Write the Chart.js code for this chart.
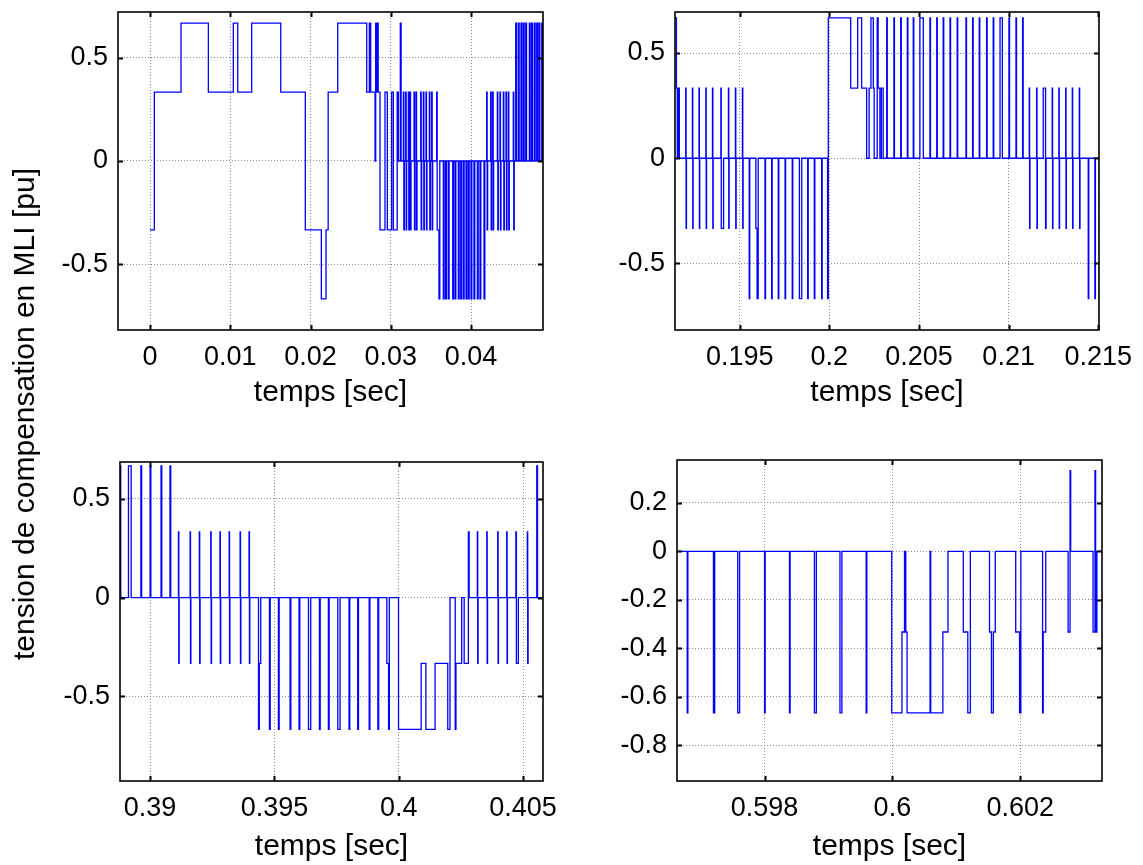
<!DOCTYPE html>
<html>
<head>
<meta charset="utf-8">
<script src="https://cdn.jsdelivr.net/npm/chart.js@4.4.1/dist/chart.umd.min.js"></script>
<style>
  body { margin: 0; background: #fff; }
  #fig { position: relative; width: 1143px; height: 865px; overflow: hidden; background: #fff; }
  #fig canvas { position: absolute; }
  #ylabel {
    position: absolute; left: -255px; top: 396px; width: 560px; height: 36px; line-height: 36px;
    transform: rotate(-90deg); text-align: center; white-space: nowrap;
    font: 30px "Liberation Sans", Arial, sans-serif; color: #000;
  }
</style>
</head>
<body>
<div id="fig">
  <canvas id="plot-tl" width="570" height="420" style="left:0;top:0"></canvas>
  <canvas id="plot-tr" width="560" height="420" style="left:580px;top:0"></canvas>
  <canvas id="plot-bl" width="570" height="425" style="left:0;top:440px"></canvas>
  <canvas id="plot-br" width="563" height="425" style="left:580px;top:440px"></canvas>
  <div id="ylabel">tension de compensation en MLI [pu]</div>
</div>
<script>
// compensation voltage, [time s, level pu]; each level holds until the next time
const voltStart = [
  [0, -0.333], [0.00054, 0.333], [0.00386, 0.667], [0.00727, 0.333], [0.01038, 0.667], [0.01093, 0.333],
  [0.01267, 0.667], [0.01629, 0.333], [0.01935, -0.333], [0.02135, -0.667], [0.02193, -0.333], [0.02220, 0.333],
  [0.02339, 0.667], [0.02700, 0.333], [0.02733, 0.667], [0.02750, 0.333], [0.02804, 0], [0.02812, 0.667],
  [0.02822, 0.333], [0.02833, 0.667], [0.02843, 0.333], [0.02866, -0.333], [0.02928, 0.333], [0.02957, -0.333],
  [0.03011, 0.333], [0.03032, -0.333], [0.03080, 0.333], [0.03094, 0], [0.03119, 0.667], [0.03129, 0],
  [0.03157, 0.333], [0.03163, -0.333], [0.03169, 0], [0.03186, 0.333], [0.03192, -0.333], [0.03198, 0],
  [0.03219, 0.333], [0.03225, -0.333], [0.03231, 0], [0.03240, 0.333], [0.03246, -0.333], [0.03252, 0],
  [0.03290, 0.333], [0.03296, -0.333], [0.03302, 0], [0.03315, 0.333], [0.03321, -0.333], [0.03327, 0],
  [0.03373, 0.333], [0.03379, -0.333], [0.03385, 0], [0.03406, 0.333], [0.03412, -0.333], [0.03418, 0],
  [0.03439, 0.333], [0.03445, -0.333], [0.03451, 0], [0.03481, 0.333], [0.03487, -0.333], [0.03493, 0],
  [0.03510, 0.333], [0.03516, -0.333], [0.03522, 0], [0.03572, 0.333], [0.03578, -0.333],
  [0.03601, -0.667], [0.03611, 0], [0.03655, -0.667], [0.03665, 0], [0.03684, -0.667], [0.03694, 0],
  [0.03717, -0.667], [0.03727, 0], [0.03772, -0.667], [0.03782, 0], [0.03801, -0.667], [0.03811, 0],
  [0.03842, -0.667], [0.03852, 0], [0.03872, -0.667], [0.03882, 0], [0.03904, -0.667], [0.03914, 0],
  [0.03938, -0.667], [0.03948, 0], [0.03967, -0.667], [0.03977, 0], [0.04000, -0.667], [0.04010, 0],
  [0.04037, -0.667], [0.04047, 0], [0.04079, -0.667], [0.04089, 0], [0.04112, -0.667], [0.04122, 0],
  [0.04162, -0.667], [0.04172, 0],
  [0.04195, 0.333], [0.04201, -0.333], [0.04207, 0], [0.04245, 0.333], [0.04251, -0.333], [0.04257, 0],
  [0.04270, 0.333], [0.04276, -0.333], [0.04282, 0], [0.04328, 0.333], [0.04334, -0.333], [0.04340, 0],
  [0.04361, 0.333], [0.04367, -0.333], [0.04373, 0], [0.04403, 0.333], [0.04409, -0.333], [0.04415, 0],
  [0.04436, 0.333], [0.04442, -0.333], [0.04448, 0], [0.04465, 0.333], [0.04471, -0.333], [0.04477, 0],
  [0.04527, 0.333], [0.04533, -0.333], [0.04539, 0],
  [0.04557, 0.667], [0.04567, 0], [0.04590, 0.667], [0.04600, 0], [0.04623, 0.667], [0.04633, 0],
  [0.04652, 0.667], [0.04662, 0], [0.04682, 0.667], [0.04692, 0], [0.04727, 0.667], [0.04737, 0],
  [0.04756, 0.667], [0.04766, 0], [0.04789, 0.667], [0.04799, 0], [0.04819, 0.667], [0.04829, 0],
  [0.04847, 0.667], [0.04857, 0], [0.04881, 0.667], [0.04891, 0], [0.04900, 0],
];

const volt200ms = [
  [0.19139, 0.667], [0.19147, 0.333], [0.19152, 0], [0.19157, 0.333], [0.19163, 0],
  [0.19199, 0.333], [0.19201, -0.333], [0.19203, 0], [0.19236, 0.333], [0.19238, -0.333], [0.19240, 0],
  [0.19273, 0.333], [0.19275, -0.333], [0.19277, 0], [0.19311, 0.333], [0.19313, -0.333], [0.19315, 0],
  [0.19348, 0.333], [0.19350, -0.333], [0.19352, 0], [0.19395, 0.333], [0.19397, -0.333], [0.19410, 0],
  [0.19437, 0.333], [0.19439, -0.333], [0.19441, 0], [0.19476, 0.333], [0.19478, -0.333], [0.19480, 0],
  [0.19515, 0.333], [0.19517, -0.333], [0.19519, 0],
  [0.19553, -0.667], [0.19556, 0], [0.19590, -0.333], [0.19597, -0.667], [0.19603, 0],
  [0.19641, -0.667], [0.19644, 0], [0.19678, -0.667], [0.19681, 0], [0.19715, -0.667], [0.19718, 0],
  [0.19753, -0.667], [0.19756, 0], [0.19793, -0.667], [0.19796, 0], [0.19833, -0.667], [0.19846, 0],
  [0.19879, -0.667], [0.19882, 0], [0.19916, -0.667], [0.19919, 0], [0.19957, -0.667], [0.19960, 0],
  [0.19990, -0.667], [0.19994, 0.667], [0.20119, 0.333], [0.20158, 0.667], [0.20180, 0.333], [0.20208, 0],
  [0.20222, 0.333], [0.20232, 0.667], [0.20245, 0.333], [0.20250, 0], [0.20267, 0.667], [0.20272, 0.333],
  [0.20282, 0], [0.20290, 0.333], [0.20300, 0], [0.20320, 0.667], [0.20323, 0],
  [0.20360, 0.667], [0.20363, 0], [0.20398, 0.667], [0.20401, 0], [0.20435, 0.667], [0.20438, 0],
  [0.20468, 0.667], [0.20471, 0], [0.20505, 0.667], [0.20524, 0], [0.20561, 0.667], [0.20564, 0],
  [0.20599, 0.667], [0.20602, 0], [0.20635, 0.667], [0.20638, 0], [0.20673, 0.667], [0.20676, 0],
  [0.20713, 0.667], [0.20716, 0], [0.20762, 0.667], [0.20765, 0], [0.20799, 0.667], [0.20802, 0],
  [0.20836, 0.667], [0.20839, 0], [0.20877, 0.667], [0.20880, 0], [0.20914, 0.667], [0.20917, 0],
  [0.20952, 0.667], [0.20965, 0], [0.21002, 0.667], [0.21005, 0], [0.21041, 0.667], [0.21044, 0],
  [0.21078, 0.667], [0.21081, 0],
  [0.21115, 0.333], [0.21117, -0.333], [0.21119, 0], [0.21156, 0.333], [0.21158, -0.333], [0.21160, 0],
  [0.21193, 0.333], [0.21206, -0.333], [0.21209, 0], [0.21243, 0.333], [0.21245, -0.333], [0.21247, 0],
  [0.21280, 0.333], [0.21282, -0.333], [0.21284, 0], [0.21318, 0.333], [0.21320, -0.333], [0.21322, 0],
  [0.21355, 0.333], [0.21357, -0.333], [0.21359, 0], [0.21394, 0.333], [0.21396, -0.333], [0.21398, 0],
  [0.21444, -0.667], [0.21447, 0], [0.21481, -0.667], [0.21484, 0], [0.21500, 0],
];

const volt400ms = [
  [0.38879, 0.667], [0.38882, 0], [0.38913, 0.667], [0.38924, 0],
  [0.38963, 0.667], [0.38966, 0], [0.39000, 0.667], [0.39003, 0], [0.39044, 0.667], [0.39047, 0],
  [0.39080, 0.667], [0.39083, 0],
  [0.39114, 0.333], [0.391155, -0.333], [0.39117, 0], [0.39161, 0.333], [0.391625, -0.333], [0.39164, 0],
  [0.39198, 0.333], [0.391995, -0.333], [0.39201, 0], [0.39244, 0.333], [0.392455, -0.333], [0.39247, 0],
  [0.39281, 0.333], [0.392825, -0.333], [0.39284, 0], [0.39318, 0.333], [0.393195, -0.333], [0.39321, 0],
  [0.39362, 0.333], [0.393635, -0.333], [0.39365, 0], [0.39398, 0.333], [0.393995, -0.333], [0.39401, 0],
  [0.39436, -0.667], [0.39439, -0.333], [0.39445, 0],
  [0.39480, -0.667], [0.39483, 0], [0.39516, -0.667], [0.39519, 0], [0.39563, -0.667], [0.39566, 0],
  [0.39599, -0.667], [0.39602, 0], [0.39637, -0.667], [0.39646, 0], [0.39681, -0.667], [0.39684, 0],
  [0.39717, -0.667], [0.39720, 0], [0.39755, -0.667], [0.39764, 0], [0.39800, -0.667], [0.39803, 0],
  [0.39835, -0.667], [0.39838, 0], [0.39881, -0.667], [0.39884, 0], [0.39916, -0.667], [0.39919, 0],
  [0.39952, -0.333], [0.39959, -0.667], [0.39962, 0], [0.39999, -0.667], [0.40090, -0.333], [0.40109, -0.667],
  [0.40146, -0.333], [0.40197, -0.667], [0.40206, 0], [0.40227, -0.667], [0.40230, -0.333], [0.40253, 0],
  [0.40263, -0.333], [0.40280, 0.333], [0.40283, 0],
  [0.40316, 0.333], [0.403175, -0.333], [0.40319, 0], [0.40354, 0.333], [0.403555, -0.333], [0.40357, 0],
  [0.40398, 0.333], [0.403995, -0.333], [0.40401, 0], [0.40434, 0.333], [0.404355, -0.333], [0.40437, 0],
  [0.40471, 0.333], [0.40473, -0.333], [0.40481, 0], [0.40517, 0.333], [0.405185, -0.333], [0.40520, 0],
  [0.40555, 0.667], [0.40558, 0], [0.40579, 0],
];

const volt600ms = [
  [0.59663, 0],
  [0.59679, -0.667], [0.59680, 0], [0.59720, -0.667], [0.59722, 0], [0.59758, -0.667], [0.59761, 0],
  [0.59800, -0.667], [0.59801, 0], [0.59839, -0.667], [0.59840, 0], [0.59878, -0.667], [0.59881, 0],
  [0.59918, -0.667], [0.59921, 0], [0.59959, -0.667], [0.59960, 0],
  [0.59999, -0.667], [0.60015, -0.333], [0.60019, 0], [0.60021, -0.333], [0.60023, -0.667], [0.60059, 0],
  [0.60060, -0.667], [0.60079, -0.333], [0.60087, 0], [0.60111, -0.333], [0.60118, -0.667], [0.60122, 0],
  [0.60152, -0.333], [0.60155, -0.667], [0.60158, -0.333], [0.60161, 0], [0.60193, -0.333], [0.60199, -0.667],
  [0.60201, 0], [0.60235, -0.667], [0.60236, -0.333], [0.60240, 0], [0.60275, -0.333], [0.60278, 0.333],
  [0.60279, 0], [0.60314, -0.333], [0.60317, 0.333], [0.60318, -0.333], [0.60320, 0], [0.60328, 0],
];

// axis limits and ticks
const xLimStart = [-0.00399, 0.04897];
const xLim200ms = [0.19139, 0.21504];
const xLim400ms = [0.38879, 0.40580];
const xLim600ms = [0.59663, 0.60328];
const yLimStart = [-0.818, 0.721];
const yLim200ms = [-0.816, 0.695];
const yLim400ms = [-0.929, 0.687];
const yLim600ms = [-0.948, 0.377];
const xTicksStart = [0, 0.01, 0.02, 0.03, 0.04];
const xTicks200ms = [0.195, 0.2, 0.205, 0.21, 0.215];
const xTicks400ms = [0.39, 0.395, 0.4, 0.405];
const xTicks600ms = [0.598, 0.6, 0.602];
const yTicksHalf = [-0.5, 0, 0.5];
const yTicks600ms = [-0.8, -0.6, -0.4, -0.2, 0, 0.2];
const xTitle = 'temps [sec]';

Chart.defaults.font.family = '"Liberation Sans", Arial, sans-serif';
Chart.defaults.color = '#000';

const fmt = (v) => String(Number(Number(v).toFixed(4)));

// matlab style box with inward ticks on all four sides
const boxTicks = {
  id: 'boxTicks',
  afterDraw(chart) {
    const { ctx, chartArea: a, scales: { x, y } } = chart;
    ctx.save();
    ctx.strokeStyle = '#000';
    ctx.lineWidth = 1.6;
    ctx.strokeRect(a.left, a.top, a.right - a.left, a.bottom - a.top);
    ctx.lineWidth = 2;
    ctx.beginPath();
    x.ticks.forEach((t) => {
      const px = Math.round(x.getPixelForValue(t.value)) + 0.5;
      ctx.moveTo(px, a.bottom); ctx.lineTo(px, a.bottom - 5);
      ctx.moveTo(px, a.top); ctx.lineTo(px, a.top + 5);
    });
    y.ticks.forEach((t) => {
      const py = Math.round(y.getPixelForValue(t.value)) + 0.5;
      ctx.moveTo(a.left, py); ctx.lineTo(a.left + 5, py);
      ctx.moveTo(a.right, py); ctx.lineTo(a.right - 5, py);
    });
    ctx.stroke();
    ctx.restore();
  },
};

const renderPlot = (id, pairs, xLim, yLim, xTicks, yTicks, frame) => {
  const canvas = document.getElementById(id);
  const grid = { display: true, drawTicks: false, color: '#8a8a8a', lineWidth: 1 };
  const border = { display: false, dash: [1, 2] };
  new Chart(canvas.getContext('2d'), {
    type: 'line',
    data: {
      datasets: [{
        data: pairs.map(([t, v]) => ({ x: t, y: v })),
        borderColor: '#0000ff',
        borderWidth: 1.3,
        pointRadius: 0,
        stepped: true,
        fill: false,
        parsing: false,
      }],
    },
    options: {
      responsive: false,
      animation: false,
      events: [],
      layout: { padding: { left: 0, top: frame.top, right: frame.right, bottom: 0 } },
      plugins: { legend: { display: false }, tooltip: { enabled: false } },
      scales: {
        x: {
          type: 'linear', min: xLim[0], max: xLim[1],
          grid, border,
          afterBuildTicks: (s) => { s.ticks = xTicks.map((v) => ({ value: v })); },
          afterFit: (s) => { s.height = frame.xh; s.paddingLeft = 0; s.paddingRight = 0; },
          ticks: { autoSkip: false, maxRotation: 0, padding: 11, font: { size: 27 }, callback: fmt },
          title: { display: true, text: xTitle, font: { size: 30 }, padding: { top: 0, bottom: frame.tp } },
        },
        y: {
          type: 'linear', min: yLim[0], max: yLim[1],
          grid, border,
          afterBuildTicks: (s) => { s.ticks = yTicks.map((v) => ({ value: v })); },
          afterFit: (s) => { s.width = frame.yw; s.paddingTop = 0; s.paddingBottom = 0; },
          ticks: { autoSkip: false, padding: 10, font: { size: 27 }, callback: fmt },
        },
      },
    },
    plugins: [boxTicks],
  });
};

renderPlot('plot-tl', voltStart, xLimStart, yLimStart, xTicksStart, yTicksHalf, { yw: 118, xh: 90, top: 12, right: 27, tp: 9 });
renderPlot('plot-tr', volt200ms, xLim200ms, yLim200ms, xTicks200ms, yTicksHalf, { yw: 95, xh: 90, top: 12, right: 41, tp: 9 });
renderPlot('plot-bl', volt400ms, xLim400ms, yLim400ms, xTicks400ms, yTicksHalf, { yw: 120, xh: 84, top: 22, right: 27, tp: 0 });
renderPlot('plot-br', volt600ms, xLim600ms, yLim600ms, xTicks600ms, yTicks600ms, { yw: 97, xh: 84, top: 20, right: 41, tp: 0 });
</script>
</body>
</html>
